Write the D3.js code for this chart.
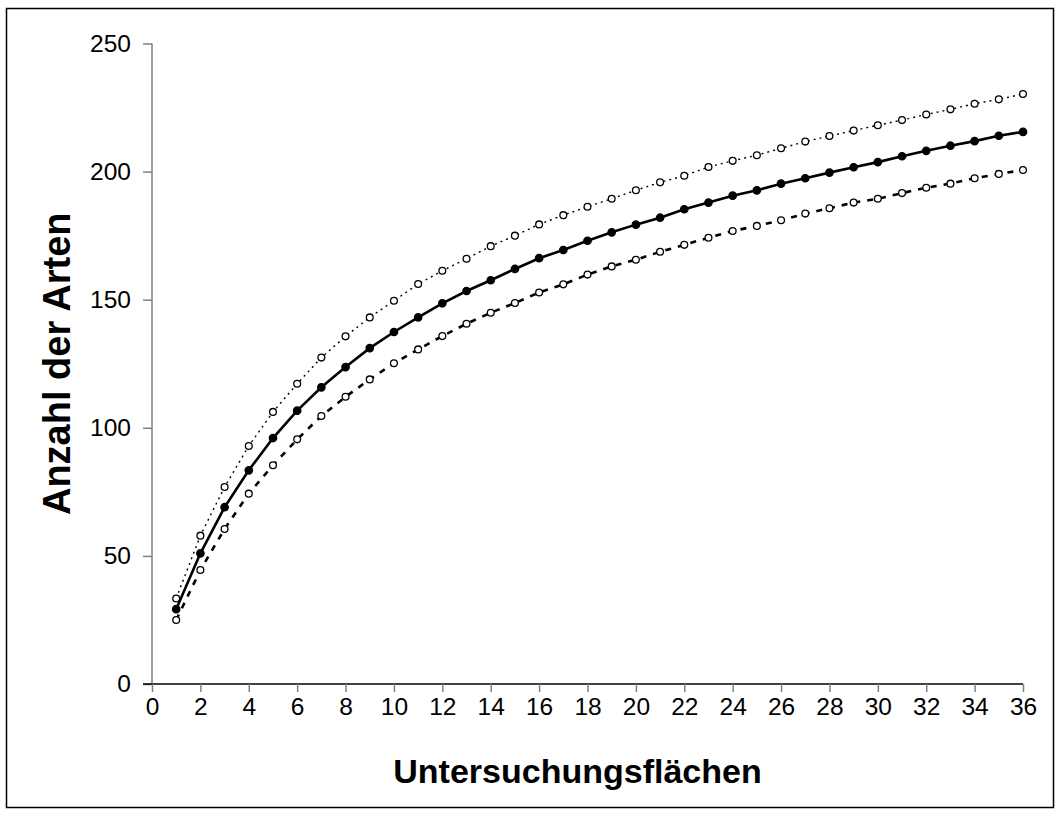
<!DOCTYPE html>
<html>
<head>
<meta charset="utf-8">
<script src="https://cdn.jsdelivr.net/npm/d3@7"></script>
<style>
  html, body { margin: 0; padding: 0; background: #fff; }
  svg { display: block; font-family: "Liberation Sans", Arial, Helvetica, sans-serif; }
</style>
</head>
<body>
<svg id="chart" width="1060" height="816"></svg>
<script>
// Species accumulation: number of species vs. number of sampled plots
const plots = d3.range(1, 37);
const meanSpecies = [29.2, 51.0, 69.0, 83.4, 96.0, 106.7, 115.8, 123.7, 131.1, 137.4,
  143.1, 148.6, 153.4, 157.6, 162.0, 166.2, 169.4, 173.0, 176.3, 179.3,
  182.0, 185.3, 187.9, 190.6, 192.7, 195.3, 197.4, 199.6, 201.7, 203.7,
  206.0, 208.1, 210.1, 211.9, 214.0, 215.5];
const upperSpecies = [33.4, 57.9, 76.9, 92.9, 106.2, 117.2, 127.4, 135.7, 143.1, 149.6,
  156.1, 161.3, 166.0, 170.9, 175.0, 179.4, 183.0, 186.3, 189.4, 192.7,
  195.8, 198.4, 201.8, 204.2, 206.4, 209.1, 211.7, 213.9, 216.0, 218.1,
  220.1, 222.3, 224.3, 226.5, 228.2, 230.3];
const lowerSpecies = [25.0, 44.5, 60.5, 74.3, 85.4, 95.5, 104.6, 112.1, 118.9, 125.2,
  130.6, 135.8, 140.6, 144.9, 148.7, 152.8, 156.0, 159.8, 163.0, 165.6,
  168.7, 171.4, 174.2, 176.8, 178.8, 181.0, 183.6, 185.7, 187.9, 189.4,
  191.6, 193.7, 195.3, 197.4, 199.1, 200.6];
const xTicks = d3.range(0, 37, 2);
const yTicks = [0, 50, 100, 150, 200, 250];
const xTitle = "Untersuchungsflächen";
const yTitle = "Anzahl der Arten";

const svg = d3.select("#chart");

// outer frame
svg.append("rect")
  .attr("x", 6.5).attr("y", 8.5)
  .attr("width", 1047).attr("height", 799)
  .attr("fill", "none").attr("stroke", "#000").attr("stroke-width", 1.5);

const x = d3.scaleLinear().domain([0, 36]).range([152, 1023]);
const y = d3.scaleLinear().domain([0, 250]).range([684, 43.5]);

// y axis
const yAxis = svg.append("g")
  .attr("transform", `translate(${x(0)},0)`)
  .call(d3.axisLeft(y).tickValues(yTicks).tickSize(9).tickPadding(12));
yAxis.select(".domain").attr("stroke", "#808080").attr("stroke-width", 1.5)
  .attr("d", `M0,${y(250)}V${y(0)}`);
yAxis.selectAll(".tick line").attr("stroke", "#808080").attr("stroke-width", 1.5);
yAxis.selectAll(".tick text")
  .attr("font-size", 24.5).attr("fill", "#000")
  .attr("font-family", "'Liberation Sans', Arial, sans-serif");

// x axis
const xAxis = svg.append("g")
  .attr("transform", `translate(0,${y(0)})`)
  .call(d3.axisBottom(x).tickValues(xTicks).tickSize(8).tickPadding(6));
xAxis.select(".domain").attr("stroke", "#000").attr("stroke-width", 1.5)
  .attr("d", `M${x(0) - 9},0H${x(36)}`);
xAxis.selectAll(".tick line").attr("stroke", "#808080").attr("stroke-width", 1.5);
xAxis.selectAll(".tick text")
  .attr("font-size", 24.5).attr("fill", "#000")
  .attr("font-family", "'Liberation Sans', Arial, sans-serif");

// axis titles
svg.append("text")
  .attr("x", (x(0) + x(36)) / 2 - 10).attr("y", 783)
  .attr("text-anchor", "middle")
  .attr("font-size", 34).attr("font-weight", "bold")
  .text(xTitle);

svg.append("text")
  .attr("transform", `translate(70,${(y(0) + y(250)) / 2}) rotate(-90)`)
  .attr("text-anchor", "middle")
  .attr("font-size", 38).attr("font-weight", "bold")
  .text(yTitle);

const series = [
  { values: upperSpecies, width: 1.4, dash: "2,4", fill: "#fff" },
  { values: lowerSpecies, width: 2.6, dash: "6,7", fill: "#fff" },
  { values: meanSpecies, width: 2.6, dash: null, fill: "#000" }
];

const line = d3.line().x((d, i) => x(plots[i])).y(d => y(d));

series.forEach(s => {
  svg.append("path")
    .datum(s.values)
    .attr("d", line)
    .attr("fill", "none")
    .attr("stroke", "#000")
    .attr("stroke-width", s.width)
    .attr("stroke-dasharray", s.dash);
  svg.append("g").selectAll("circle")
    .data(s.values)
    .join("circle")
    .attr("cx", (d, i) => x(plots[i]))
    .attr("cy", d => y(d))
    .attr("r", s.fill === "#000" ? 3.7 : 3.4)
    .attr("fill", s.fill)
    .attr("stroke", "#000")
    .attr("stroke-width", 1.3);
});
</script>
</body>
</html>
